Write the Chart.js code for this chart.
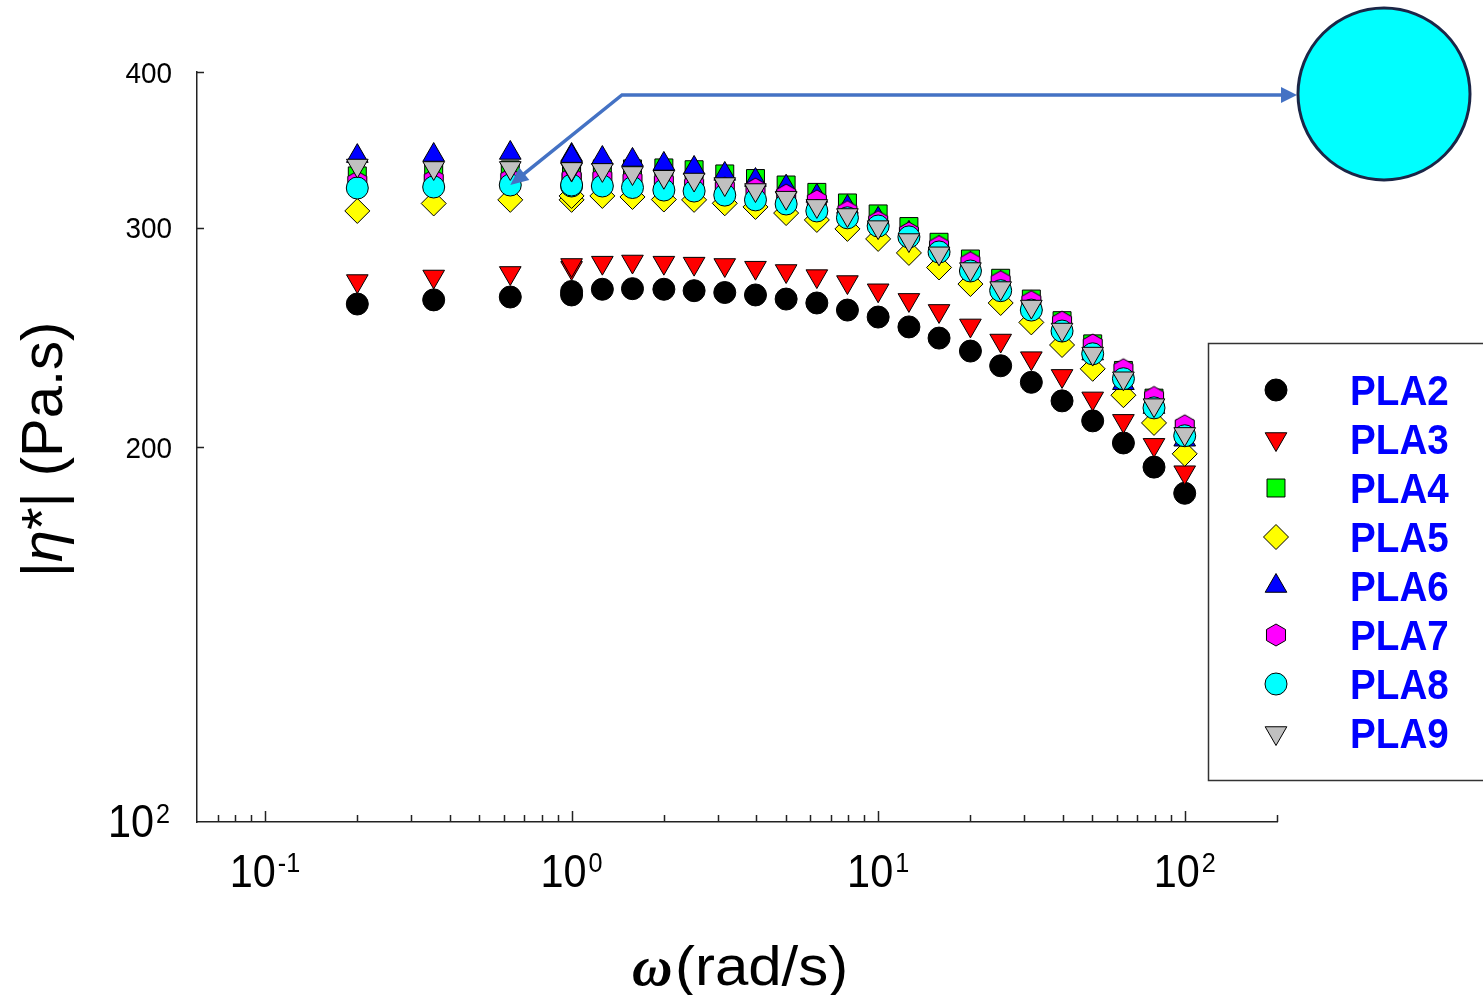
<!DOCTYPE html>
<html>
<head>
<meta charset="utf-8">
<title>|η*| vs ω</title>
<script src="https://cdn.jsdelivr.net/npm/chart.js@4.4.0/dist/chart.umd.min.js"></script>
<style>
  html, body { margin: 0; padding: 0; background: #fff; }
  #wrap { width: 1483px; height: 995px; position: relative; }
</style>
</head>
<body>
<div id="wrap"><canvas id="chart" width="1483" height="995"></canvas></div>
<script>
// angular frequency (rad/s) - two sweeps, both have a point at 1 rad/s
const omega = [0.2, 0.355, 0.631, 1.0, 1.0, 1.26, 1.58, 2.0, 2.51, 3.16, 3.98, 5.01, 6.31, 7.94,
               10, 12.6, 15.8, 20, 25.1, 31.6, 39.8, 50.1, 63.1, 79.4, 100];

// |eta*| (Pa.s)
const pla2 = [260.5, 262.5, 263.9, 264.9, 266.6, 267.7, 268.0, 267.7, 267.0, 266.1, 264.9, 262.9, 261.0, 257.6,
              254.3, 249.7, 244.6, 238.8, 232.4, 225.4, 217.8, 209.9, 201.5, 192.7, 183.6];
const pla3 = [271.8, 274.1, 275.9, 278.5, 280.0, 281.2, 281.8, 281.2, 280.7, 280.0, 278.6, 276.9, 274.3, 271.3,
              267.2, 262.5, 257.2, 250.4, 243.5, 235.7, 228.1, 218.8, 209.9, 200.8, 190.9];
const pla4 = [330.1, 331.9, 333.8, 333.8, 334.4, 334.4, 334.4, 335.0, 333.9, 331.3, 328.5, 324.6, 320.2, 314.0,
              307.7, 300.6, 292.0, 283.1, 273.2, 262.9, 252.6, 242.0, 230.4, 218.9, 206.8];
const pla5 = [309.4, 313.7, 315.8, 315.8, 318.1, 318.1, 317.5, 316.0, 315.8, 313.8, 311.7, 308.2, 304.3, 299.3,
              293.8, 286.3, 278.7, 270.3, 261.0, 251.8, 241.5, 231.1, 220.1, 209.1, 197.5];
const pla6 = [342.4, 343.1, 344.4, 343.1, 342.4, 341.2, 340.0, 337.5, 335.0, 331.3, 327.6, 323.6, 318.1, 311.7,
              304.9, 297.1, 288.9, 280.5, 270.8, 260.5, 249.7, 237.7, 225.0, 215.3, 202.7];
const pla7 = [326.4, 327.6, 328.2, 328.2, 328.8, 328.8, 327.6, 326.4, 324.6, 322.8, 322.2, 318.6, 315.2, 309.0,
              303.3, 297.1, 289.7, 281.2, 271.5, 261.6, 251.9, 241.5, 230.7, 219.2, 208.0];
const pla8 = [322.8, 323.4, 324.6, 324.0, 324.6, 324.0, 323.1, 321.6, 321.0, 318.6, 315.8, 313.4, 309.4, 305.5,
              300.9, 294.9, 286.8, 276.9, 267.0, 257.6, 247.8, 237.6, 226.9, 215.0, 204.2];
const pla9 = [336.5, 335.0, 335.0, 334.0, 334.4, 333.8, 331.9, 329.6, 327.9, 325.2, 321.6, 317.1, 312.3, 307.1,
              300.3, 293.2, 286.1, 277.9, 268.3, 259.3, 248.5, 237.7, 227.1, 216.1, 204.9];

const names = ['PLA2', 'PLA3', 'PLA4', 'PLA5', 'PLA6', 'PLA7', 'PLA8', 'PLA9'];
const series = [pla2, pla3, pla4, pla5, pla6, pla7, pla8, pla9];

// axis ticks
const xMajorTicks = [0.1, 1, 10, 100];
const xMinorTicks = [0.07, 0.08, 0.09, 0.2, 0.3, 0.4, 0.5, 0.6, 0.7, 0.8, 0.9,
                     2, 3, 4, 5, 6, 7, 8, 9, 20, 30, 40, 50, 60, 70, 80, 90, 200];
const yTicks = [200, 300, 400];

const FONT = '"Liberation Sans", Arial, sans-serif';

// magenta hexagon marker (not a built-in point style)
function hexagon(r, fill) {
    const s = Math.ceil(r * 2 + 4);
    const c = document.createElement('canvas');
    c.width = s; c.height = s;
    const g = c.getContext('2d');
    g.beginPath();
    for (let k = 0; k < 6; k++) {
        const a = Math.PI / 3 * k;
        g.lineTo(s / 2 + r * Math.sin(a), s / 2 - r * Math.cos(a));
    }
    g.closePath();
    g.fillStyle = fill;
    g.fill();
    g.strokeStyle = '#000';
    g.lineWidth = 1;
    g.stroke();
    return c;
}

const fills = ['#000000', '#ff0000', '#00ff00', '#ffff00', '#0000ff', '#ff00ff', '#00ffff', '#c0c0c0'];
const markers = [
    { style: 'circle', radius: 11, rotation: 0 },
    { style: 'triangle', radius: 12.5, rotation: 180 },
    { style: 'rect', radius: 12.7, rotation: 0 },
    { style: 'rectRot', radius: 12.5, rotation: 0 },
    { style: 'triangle', radius: 12.5, rotation: 0 },
    { style: hexagon(11, '#ff00ff'), radius: 11, rotation: 0 },
    { style: 'circle', radius: 11, rotation: 0 },
    { style: 'triangle', radius: 12.5, rotation: 180 }
];

// text with a horizontal squeeze factor
function txt(ctx, s, x, y, font, align, sx) {
    ctx.save();
    ctx.font = font;
    ctx.textAlign = 'left';
    ctx.textBaseline = 'alphabetic';
    const w = ctx.measureText(s).width * sx;
    const x0 = align === 'center' ? x - w / 2 : (align === 'right' ? x - w : x);
    ctx.translate(x0, y);
    ctx.scale(sx, 1);
    ctx.fillText(s, 0, 0);
    ctx.restore();
    return w;
}
function txtWidth(ctx, s, font, sx) {
    ctx.save();
    ctx.font = font;
    const w = ctx.measureText(s).width * sx;
    ctx.restore();
    return w;
}

function arrowHead(ctx, fx, fy, tx, ty, len, half) {
    const a = Math.atan2(ty - fy, tx - fx);
    ctx.beginPath();
    ctx.moveTo(tx, ty);
    ctx.lineTo(tx - len * Math.cos(a) + half * Math.sin(a), ty - len * Math.sin(a) - half * Math.cos(a));
    ctx.lineTo(tx - len * Math.cos(a) - half * Math.sin(a), ty - len * Math.sin(a) + half * Math.cos(a));
    ctx.closePath();
    ctx.fill();
}

const decorations = {
    id: 'decorations',
    afterDraw(chart) {
        const ctx = chart.ctx;
        const xs = chart.scales.x, ys = chart.scales.y;
        const area = chart.chartArea;
        ctx.save();
        ctx.fillStyle = '#000';
        ctx.strokeStyle = '#222';
        ctx.lineWidth = 1.5;

        // x ticks, pointing inwards
        ctx.beginPath();
        xMajorTicks.forEach(v => {
            const p = Math.round(xs.getPixelForValue(v)) + 0.5;
            ctx.moveTo(p, area.bottom); ctx.lineTo(p, area.bottom - 11);
        });
        xMinorTicks.forEach(v => {
            const p = Math.round(xs.getPixelForValue(v)) + 0.5;
            ctx.moveTo(p, area.bottom); ctx.lineTo(p, area.bottom - 7);
        });
        // y ticks
        yTicks.forEach(v => {
            const p = Math.round(ys.getPixelForValue(v)) + 0.5;
            ctx.moveTo(area.left, p); ctx.lineTo(area.left + 7, p);
        });
        ctx.stroke();

        // x tick labels 10^n
        const baseFont = '46px ' + FONT, supFont = '28px ' + FONT;
        xMajorTicks.forEach(v => {
            const e = Math.round(Math.log10(v));
            const sup = e < 0 ? '-' + (-e) : String(e);
            const wb = txtWidth(ctx, '10', baseFont, 0.9);
            const ws = txtWidth(ctx, sup, supFont, 0.9);
            const total = wb + 2 + ws;
            const x0 = xs.getPixelForValue(v) - total / 2;
            txt(ctx, '10', x0, area.bottom + 65, baseFont, 'left', 0.9);
            txt(ctx, sup, x0 + wb + 2, area.bottom + 50, supFont, 'left', 0.9);
        });

        // y tick labels
        yTicks.forEach(v => {
            txt(ctx, String(v), 172, ys.getPixelForValue(v) + 10.5, '30px ' + FONT, 'right', 0.93);
        });
        const y100 = ys.getPixelForValue(100);
        const ws2 = txtWidth(ctx, '2', supFont, 0.9);
        txt(ctx, '2', 170, y100 + 1, supFont, 'right', 0.9);
        txt(ctx, '10', 170 - ws2 - 2, y100 + 15, baseFont, 'right', 0.9);

        // x axis title
        ctx.save();
        ctx.font = 'italic bold 56px "Liberation Serif", "Times New Roman", serif';
        ctx.textBaseline = 'alphabetic';
        ctx.fillText('ω', 632, 985);
        ctx.restore();
        txt(ctx, '(rad/s)', 675, 985, '56px ' + FONT, 'left', 1.07);

        // y axis title, rotated
        ctx.save();
        ctx.translate(62, 449.5);
        ctx.rotate(-Math.PI / 2);
        const fN = '58px ' + FONT, fI = 'italic 58px ' + FONT;
        const parts = [['|', fN], ['η', fI], ['*| (Pa.s)', fN]];
        let tw = 0;
        parts.forEach(p => { tw += txtWidth(ctx, p[0], p[1], 1); });
        let cx = -tw / 2;
        parts.forEach(p => { cx += txt(ctx, p[0], cx, 0, p[1], 'left', 1); });
        ctx.restore();

        // arrow from the PLA8 point to the circle
        const tipX = xs.getPixelForValue(omega[2]);
        const tipY = ys.getPixelForValue(pla8[2]);
        const cornerX = 622, cornerY = 95;
        const endX = 1297, endY = 95;
        ctx.strokeStyle = '#4472c4';
        ctx.fillStyle = '#4472c4';
        ctx.lineWidth = 3.5;
        const a = Math.atan2(tipY - cornerY, tipX - cornerX);
        ctx.beginPath();
        ctx.moveTo(tipX - 12 * Math.cos(a), tipY - 12 * Math.sin(a));
        ctx.lineTo(cornerX, cornerY);
        ctx.lineTo(endX - 12, endY);
        ctx.stroke();
        arrowHead(ctx, cornerX, cornerY, tipX, tipY, 18, 8);
        arrowHead(ctx, cornerX, cornerY, endX, endY, 16, 8);

        // cyan circle
        ctx.beginPath();
        ctx.arc(1384, 94, 86, 0, Math.PI * 2);
        ctx.fillStyle = '#00ffff';
        ctx.fill();
        ctx.lineWidth = 3;
        ctx.strokeStyle = '#1b2647';
        ctx.stroke();

        // legend box
        ctx.fillStyle = '#fff';
        ctx.fillRect(1208, 343, 300, 437);
        ctx.lineWidth = 1.5;
        ctx.strokeStyle = '#333';
        ctx.strokeRect(1208.5, 343.5, 300, 437);
        names.forEach((n, i) => {
            const my = 390 + 49 * i;
            const m = markers[i];
            ctx.fillStyle = fills[i];
            ctx.strokeStyle = '#000';
            ctx.lineWidth = 1;
            Chart.helpers.drawPoint(ctx, {
                pointStyle: m.style, rotation: m.rotation, radius: m.radius, borderWidth: 1
            }, 1276, my);
            ctx.fillStyle = '#0000ff';
            txt(ctx, n, 1350, 405 + 49 * i, 'bold 42px ' + FONT, 'left', 0.92);
        });
        ctx.restore();
    }
};

const datasets = names.map((n, i) => ({
    label: n,
    data: omega.map((w, k) => ({ x: w, y: series[i][k] })),
    showLine: false,
    pointStyle: markers[i].style,
    pointRadius: markers[i].radius,
    pointRotation: markers[i].rotation,
    pointBackgroundColor: fills[i],
    pointBorderColor: '#000',
    pointBorderWidth: 1,
    order: names.length - i   // later samples drawn on top
}));

new Chart(document.getElementById('chart').getContext('2d'), {
    type: 'scatter',
    data: { datasets: datasets },
    options: {
        responsive: false,
        animation: false,
        events: [],
        layout: { padding: { left: 197, right: 206, top: 72, bottom: 173 } },
        plugins: { legend: { display: false }, tooltip: { enabled: false } },
        scales: {
            x: {
                type: 'logarithmic',
                min: 0.06, max: 200,
                ticks: { display: false },
                grid: { display: false, drawTicks: false },
                border: { display: true, color: '#222', width: 1.5 }
            },
            y: {
                type: 'logarithmic',
                min: 100, max: 400,
                ticks: { display: false },
                grid: { display: false, drawTicks: false },
                border: { display: true, color: '#222', width: 1.5 }
            }
        }
    },
    plugins: [decorations]
});
</script>
</body>
</html>
